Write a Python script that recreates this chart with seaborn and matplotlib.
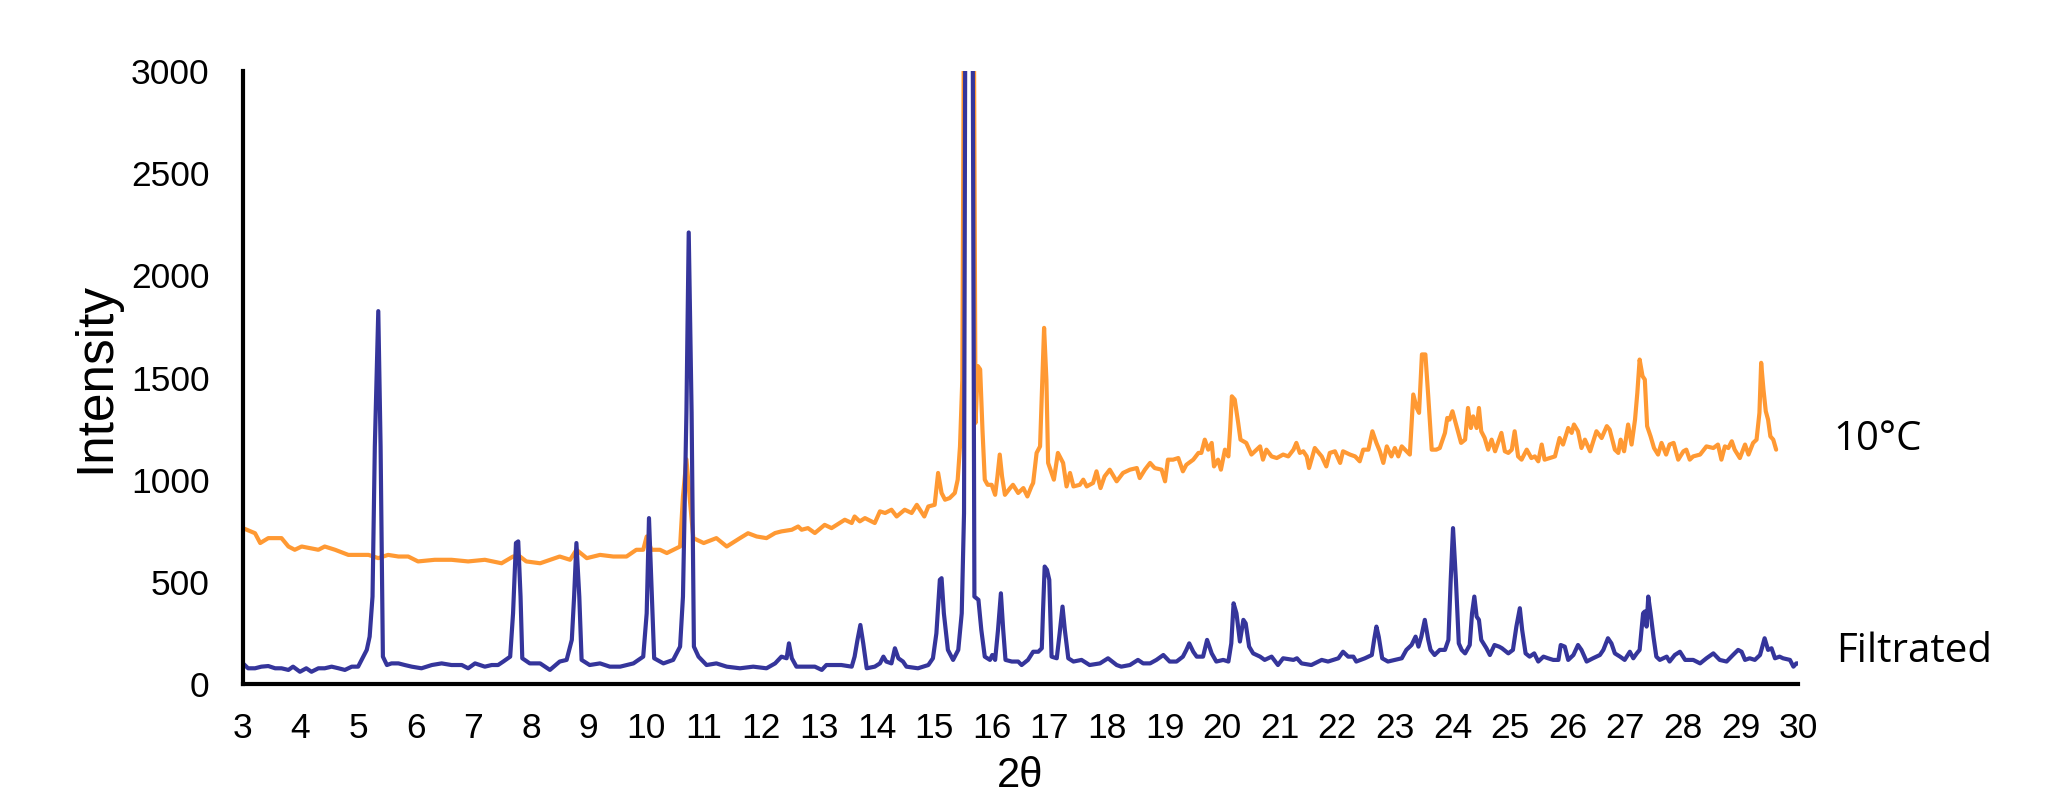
import matplotlib
matplotlib.use("Agg")
import matplotlib.pyplot as plt
import seaborn as sns

# Filtrated pattern (blue)
filtrated_2theta = [
    3.00, 3.09, 3.21, 3.32, 3.44, 3.56, 3.67, 3.79, 3.87, 3.99, 4.10, 4.19, 4.31, 4.42, 4.54, 4.66,
    4.77, 4.89, 5.00, 5.06, 5.15, 5.20, 5.25, 5.29, 5.35, 5.39, 5.43, 5.50, 5.58, 5.70, 5.81, 5.93,
    6.10, 6.28, 6.45, 6.62, 6.80, 6.91, 7.03, 7.20, 7.32, 7.43, 7.52, 7.64, 7.69, 7.74, 7.78, 7.82,
    7.85, 7.98, 8.16, 8.33, 8.50, 8.62, 8.71, 8.75, 8.79, 8.84, 8.88, 9.02, 9.20, 9.37, 9.55, 9.78,
    9.95, 10.01, 10.05, 10.09, 10.14, 10.30, 10.47, 10.59, 10.64, 10.70, 10.74, 10.79, 10.83, 10.91,
    11.05, 11.22, 11.40, 11.63, 11.86, 12.09, 12.24, 12.35, 12.44, 12.48, 12.53, 12.61, 12.93, 13.05,
    13.13, 13.39, 13.57, 13.62, 13.67, 13.72, 13.77, 13.83, 13.97, 14.06, 14.12, 14.17, 14.26, 14.32,
    14.38, 14.46, 14.52, 14.72, 14.90, 14.98, 15.04, 15.10, 15.13, 15.17, 15.24, 15.33, 15.42, 15.48,
    15.52, 15.55, 15.66, 15.70, 15.77, 15.82, 15.88, 15.97, 16.01, 16.06, 16.11, 16.16, 16.20, 16.24,
    16.35, 16.46, 16.52, 16.63, 16.72, 16.81, 16.87, 16.89, 16.92, 16.96, 17.00, 17.04, 17.13, 17.18,
    17.23, 17.27, 17.33, 17.42, 17.56, 17.70, 17.88, 18.02, 18.17, 18.25, 18.40, 18.54, 18.63, 18.75,
    18.86, 18.98, 19.09, 19.21, 19.32, 19.38, 19.43, 19.50, 19.56, 19.67, 19.74, 19.82, 19.90, 20.02,
    20.11, 20.16, 20.20, 20.25, 20.31, 20.37, 20.41, 20.47, 20.54, 20.66, 20.74, 20.86, 20.97, 21.06,
    21.24, 21.30, 21.38, 21.55, 21.73, 21.84, 22.02, 22.10, 22.19, 22.28, 22.33, 22.48, 22.60, 22.64,
    22.68, 22.72, 22.78, 22.88, 23.00, 23.12, 23.20, 23.29, 23.36, 23.41, 23.46, 23.52, 23.58, 23.62,
    23.69, 23.78, 23.87, 23.93, 23.97, 24.01, 24.06, 24.11, 24.16, 24.22, 24.30, 24.34, 24.38, 24.42,
    24.46, 24.50, 24.59, 24.65, 24.73, 24.81, 24.86, 24.97, 25.05, 25.11, 25.17, 25.21, 25.27, 25.34,
    25.42, 25.49, 25.58, 25.66, 25.75, 25.84, 25.88, 25.95, 26.01, 26.10, 26.18, 26.24, 26.33, 26.44,
    26.56, 26.62, 26.70, 26.76, 26.82, 26.91, 26.99, 27.08, 27.14, 27.20, 27.25, 27.31, 27.34, 27.37,
    27.40, 27.44, 27.49, 27.54, 27.60, 27.72, 27.77, 27.86, 27.95, 28.04, 28.18, 28.30, 28.41, 28.53,
    28.64, 28.76, 28.87, 28.96, 29.02, 29.08, 29.16, 29.25, 29.34, 29.42, 29.48, 29.54, 29.60, 29.68,
    29.74, 29.86, 29.92, 29.97, 30.00,
]
filtrated_intensity = [
    101, 77, 77, 85, 88, 77, 77, 69, 85, 60, 77, 60, 77, 77, 85, 77,
    69, 85, 85, 118, 167, 232, 428, 1163, 1825, 1163, 134, 93, 101, 101, 93, 85,
    77, 93, 101, 93, 93, 77, 101, 85, 93, 93, 110, 134, 346, 690, 698, 428,
    126, 101, 101, 69, 110, 118, 216, 428, 690, 428, 118, 93, 101, 85, 85, 101,
    134, 346, 812, 510, 126, 101, 118, 183, 428, 1327, 2210, 1327, 183, 134,
    93, 101, 85, 77, 85, 77, 101, 134, 126, 199, 126, 85, 85, 69,
    93, 93, 85, 134, 216, 289, 199, 77, 85, 101, 134, 110, 101, 175,
    126, 110, 85, 77, 93, 126, 248, 510, 518, 346, 167, 118, 167, 346,
    837, 4200, 4200, 428, 412, 265, 134, 118, 142, 118, 265, 444, 265, 118,
    110, 110, 93, 118, 158, 158, 175, 346, 575, 559, 510, 134, 126, 248,
    379, 265, 126, 110, 118, 93, 101, 126, 93, 85, 93, 118, 101, 101,
    118, 142, 110, 110, 134, 167, 199, 158, 134, 134, 216, 150, 110, 118,
    110, 199, 395, 346, 208, 314, 297, 183, 150, 134, 118, 134, 93, 126,
    118, 126, 101, 93, 118, 110, 126, 158, 134, 134, 110, 126, 142, 216,
    281, 232, 126, 110, 118, 126, 167, 191, 232, 183, 232, 314, 216, 167,
    142, 167, 167, 216, 510, 763, 510, 199, 167, 150, 191, 346, 428, 330,
    314, 216, 175, 142, 191, 183, 175, 150, 167, 281, 371, 265, 150, 134,
    150, 110, 134, 126, 118, 118, 191, 183, 118, 142, 191, 167, 110, 126,
    142, 167, 224, 199, 150, 134, 118, 158, 126, 150, 167, 346, 355, 281,
    428, 346, 232, 134, 118, 134, 110, 142, 158, 118, 118, 101, 126, 150,
    118, 110, 142, 167, 158, 118, 126, 118, 142, 224, 167, 175, 126, 134,
    126, 118, 85, 101, 101,
]

# 10 °C pattern (orange)
c10_2theta = [
    3.00, 3.21, 3.30, 3.44, 3.67, 3.79, 3.90, 4.02, 4.31, 4.42, 4.60, 4.83, 5.18, 5.35, 5.52, 5.70,
    5.87, 6.04, 6.33, 6.62, 6.91, 7.20, 7.49, 7.69, 7.81, 7.92, 8.16, 8.50, 8.68, 8.79, 8.97, 9.20,
    9.43, 9.66, 9.83, 9.95, 10.01, 10.09, 10.24, 10.36, 10.59, 10.64, 10.70, 10.76, 10.82, 11.00,
    11.22, 11.40, 11.63, 11.77, 11.92, 12.09, 12.24, 12.35, 12.53, 12.64, 12.70, 12.81, 12.93, 13.10,
    13.22, 13.45, 13.57, 13.62, 13.71, 13.80, 13.97, 14.06, 14.15, 14.26, 14.35, 14.49, 14.61, 14.70,
    14.83, 14.90, 15.01, 15.07, 15.13, 15.19, 15.27, 15.36, 15.41, 15.45, 15.49, 15.53, 15.68, 15.72,
    15.76, 15.80, 15.84, 15.88, 15.93, 16.00, 16.06, 16.10, 16.14, 16.18, 16.23, 16.32, 16.37, 16.46,
    16.55, 16.62, 16.69, 16.72, 16.78, 16.84, 16.88, 16.91, 16.95, 16.98, 17.04, 17.08, 17.15, 17.24,
    17.30, 17.36, 17.42, 17.53, 17.59, 17.65, 17.76, 17.82, 17.89, 17.96, 18.05, 18.17, 18.28, 18.40,
    18.52, 18.57, 18.66, 18.75, 18.83, 18.95, 19.01, 19.06, 19.15, 19.24, 19.32, 19.38, 19.50, 19.59,
    19.64, 19.70, 19.76, 19.82, 19.86, 19.93, 19.98, 20.05, 20.11, 20.14, 20.17, 20.22, 20.28, 20.32,
    20.42, 20.51, 20.60, 20.66, 20.71, 20.77, 20.86, 20.95, 21.06, 21.15, 21.24, 21.29, 21.35, 21.41,
    21.47, 21.51, 21.61, 21.73, 21.81, 21.87, 21.96, 22.05, 22.10, 22.22, 22.31, 22.39, 22.45, 22.54,
    22.61, 22.68, 22.74, 22.80, 22.86, 22.94, 23.00, 23.06, 23.12, 23.26, 23.32, 23.38, 23.42, 23.47,
    23.53, 23.58, 23.64, 23.72, 23.78, 23.87, 23.91, 23.95, 24.00, 24.07, 24.15, 24.22, 24.27, 24.32,
    24.36, 24.42, 24.46, 24.50, 24.56, 24.62, 24.68, 24.74, 24.79, 24.85, 24.91, 24.97, 25.03, 25.08,
    25.14, 25.20, 25.29, 25.37, 25.43, 25.49, 25.55, 25.60, 25.69, 25.78, 25.86, 25.92, 26.01, 26.07,
    26.11, 26.18, 26.24, 26.30, 26.39, 26.50, 26.59, 26.68, 26.73, 26.82, 26.88, 26.92, 26.98, 27.05,
    27.11, 27.17, 27.21, 27.25, 27.30, 27.34, 27.38, 27.44, 27.50, 27.57, 27.63, 27.71, 27.77, 27.84,
    27.92, 28.01, 28.06, 28.12, 28.18, 28.30, 28.41, 28.53, 28.61, 28.67, 28.73, 28.79, 28.85, 28.90,
    28.99, 29.08, 29.14, 29.22, 29.28, 29.33, 29.36, 29.40, 29.44, 29.48, 29.52, 29.57, 29.62,
]
c10_intensity = [
    763, 738, 690, 714, 714, 673, 657, 673, 657, 673, 657, 632, 632, 616, 632, 624,
    624, 600, 608, 608, 600, 608, 591, 624, 624, 600, 591, 624, 608, 657, 616, 632,
    624, 624, 657, 657, 722, 657, 657, 641, 673, 918, 1100, 900, 714, 690,
    714, 673, 714, 738, 722, 714, 739, 747, 755, 771, 755, 763, 739, 779,
    763, 804, 788, 820, 796, 812, 788, 845, 837, 853, 820, 853, 837, 877,
    820, 869, 877, 1033, 935, 902, 910, 935, 1000, 1163, 1490, 4000, 4000, 1278,
    1556, 1540, 1245, 1000, 975, 975, 926, 1016, 1123, 1016, 926, 959, 975, 935,
    959, 918, 967, 984, 1131, 1163, 1490, 1743, 1490, 1082, 1033, 1000, 1131, 1082,
    967, 1033, 967, 975, 1000, 967, 984, 1041, 959, 1016, 1049, 992, 1033, 1049,
    1057, 1008, 1049, 1082, 1057, 1049, 992, 1098, 1098, 1106, 1041, 1073, 1098, 1131,
    1131, 1196, 1147, 1180, 1065, 1098, 1049, 1147, 1114, 1245, 1408, 1392, 1278, 1196,
    1180, 1123, 1147, 1163, 1098, 1147, 1114, 1106, 1123, 1114, 1147, 1180, 1131, 1139,
    1114, 1057, 1155, 1114, 1065, 1131, 1139, 1082, 1139, 1123, 1114, 1090, 1147, 1147,
    1237, 1180, 1139, 1082, 1163, 1114, 1155, 1114, 1163, 1123, 1417, 1351, 1327, 1613,
    1613, 1408, 1147, 1147, 1155, 1229, 1302, 1294, 1335, 1262, 1180, 1196, 1351, 1253,
    1310, 1253, 1351, 1237, 1204, 1147, 1196, 1139, 1180, 1229, 1139, 1131, 1147, 1237,
    1114, 1098, 1147, 1106, 1114, 1090, 1172, 1098, 1106, 1114, 1204, 1172, 1253, 1229,
    1270, 1237, 1155, 1196, 1139, 1237, 1204, 1262, 1245, 1147, 1131, 1196, 1139, 1270,
    1172, 1294, 1425, 1588, 1507, 1490, 1262, 1212, 1155, 1123, 1180, 1123, 1172, 1180,
    1098, 1139, 1147, 1098, 1114, 1123, 1163, 1155, 1172, 1098, 1163, 1155, 1188, 1147,
    1106, 1172, 1123, 1180, 1196, 1327, 1572, 1441, 1335, 1294, 1212, 1196, 1147,
]

x_ticks = list(range(3, 31))
y_ticks = [0, 500, 1000, 1500, 2000, 2500, 3000]

sns.set_theme(style="white")
plt.rcParams['font.family'] = ['Liberation Sans', 'DejaVu Sans']
plt.rcParams['text.color'] = 'black'

fig = plt.figure(figsize=(20.57, 7.99), dpi=100)
ax = fig.add_axes([0.1181, 0.1439, 0.756, 0.7672])

sns.lineplot(x=c10_2theta, y=c10_intensity, ax=ax, color="#FF9933", lw=3.0,
             sort=False, estimator=None)
sns.lineplot(x=filtrated_2theta, y=filtrated_intensity, ax=ax, color="#35359B", lw=3.0,
             sort=False, estimator=None)

ax.set_xlim(3, 30)
ax.set_ylim(0, 3000)
ax.set_xticks(x_ticks)
ax.set_yticks(y_ticks)
ax.tick_params(axis='both', length=0, labelsize=25.5, colors='black')
ax.tick_params(axis='x', pad=20)
ax.tick_params(axis='y', pad=24)

sns.despine(ax=ax)
for side in ['left', 'bottom']:
    ax.spines[side].set_color('black')
    ax.spines[side].set_linewidth(3.0)
ax.grid(False)

ax.set_ylabel("Intensity", fontsize=37, color='black', labelpad=8)
ax.set_xlabel("2θ", fontsize=30, color='black', labelpad=8)

ax.text(30.62, 1196, "10°C", fontsize=29, family=['Open Sans', 'DejaVu Sans'],
        color='black', va='center', ha='left', clip_on=False)
ax.text(30.66, 157, "Filtrated", fontsize=29, family=['Open Sans', 'DejaVu Sans'],
        color='black', va='center', ha='left', clip_on=False)

fig.savefig("out.png", dpi=100)
